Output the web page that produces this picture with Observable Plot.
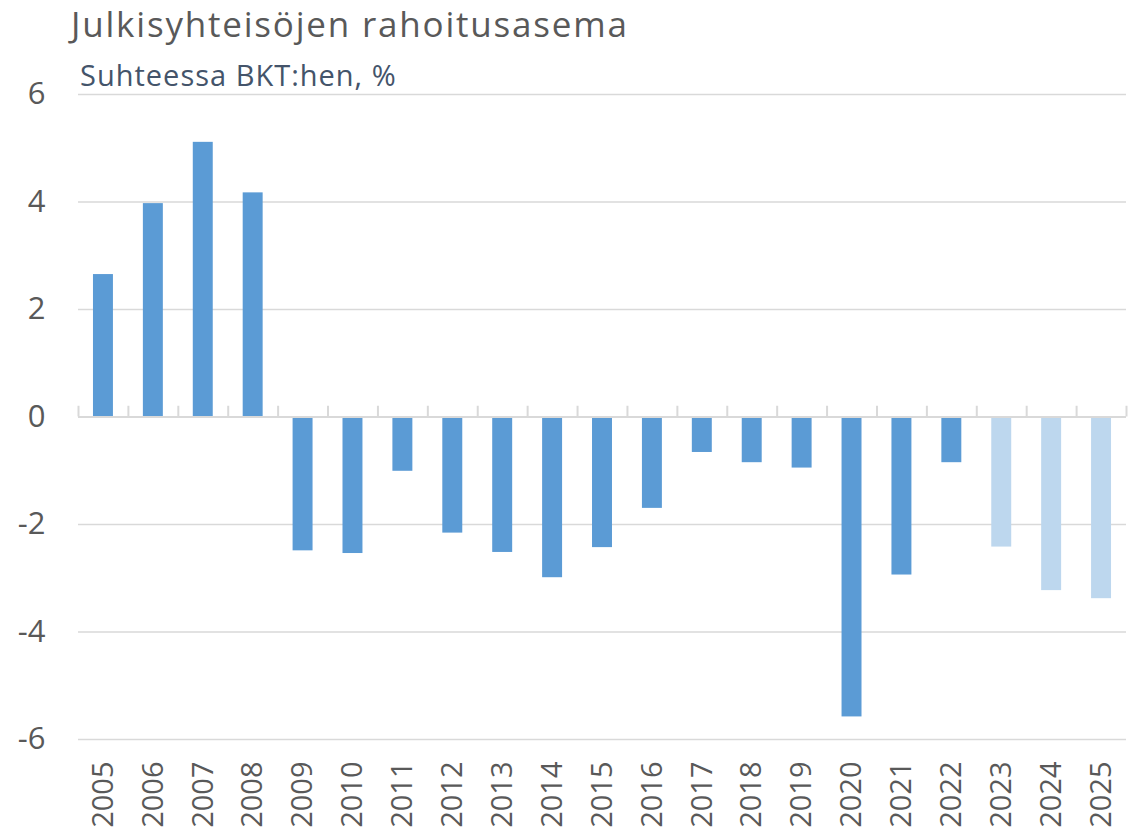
<!DOCTYPE html>
<html>
<head>
<meta charset="utf-8">
<script src="https://cdn.jsdelivr.net/npm/d3@7"></script>
<script src="https://cdn.jsdelivr.net/npm/@observablehq/plot@0.6"></script>
<style>
  html, body { margin: 0; padding: 0; background: #fff; }
  #wrap { position: relative; width: 1128px; height: 835px; overflow: hidden; font-family: "Open Sans", sans-serif; }
  #title { position: absolute; left: 71px; top: 0px; font-size: 35px; letter-spacing: 1.8px; color: #595959; white-space: nowrap; line-height: normal; }
  #subtitle { position: absolute; left: 80px; top: 55px; font-size: 29px; letter-spacing: 1px; color: #44546A; white-space: nowrap; line-height: normal; }
  #chart { position: absolute; left: 0; top: 0; }
</style>
</head>
<body>
<div id="wrap">
  <div id="chart"></div>
  <div id="title">Julkisyhteisöjen rahoitusasema</div>
  <div id="subtitle">Suhteessa BKT:hen, %</div>
</div>
<script>
const years = ["2005","2006","2007","2008","2009","2010","2011","2012","2013","2014","2015","2016","2017","2018","2019","2020","2021","2022","2023","2024","2025"];
const values = [2.65, 3.97, 5.11, 4.17, -2.49, -2.54, -1.01, -2.16, -2.52, -2.99, -2.43, -1.70, -0.66, -0.85, -0.95, -5.58, -2.94, -0.85, -2.42, -3.23, -3.38];
const forecastYears = ["2023","2024","2025"];
const yTicks = [-6, -4, -2, 0, 2, 4, 6];

const data = years.map((year, i) => ({year, value: values[i], forecast: forecastYears.includes(year)}));

const step = (1128 - 78 - 2) / years.length;

const chart = Plot.plot({
  width: 1128,
  height: 835,
  marginLeft: 78,
  marginRight: 2,
  marginTop: 94,
  marginBottom: 96,
  style: {fontFamily: "'Open Sans', sans-serif", background: "transparent"},
  x: {domain: years, paddingInner: 0.6, paddingOuter: 0.3, round: false, label: null},
  y: {domain: [-6, 6], label: null},
  marks: [
    Plot.ruleY(yTicks.filter(t => t !== 0), {stroke: "#D9D9D9", strokeWidth: 1.5}),
    Plot.barY(data.filter(d => !d.forecast), {x: "year", y: "value", fill: "#5B9BD5"}),
    Plot.barY(data.filter(d => d.forecast), {x: "year", y: "value", fill: "#BDD7EE"}),
    Plot.ruleY([0], {stroke: "#D9D9D9", strokeWidth: 2}),
    Plot.ruleX(years, {x: d => d, dx: -step / 2, y1: 0, y2: 0.2, stroke: "#D9D9D9", strokeWidth: 2}),
    Plot.ruleX(years.slice(-1), {x: d => d, dx: step / 2, y1: 0, y2: 0.2, stroke: "#D9D9D9", strokeWidth: 2}),
    Plot.axisY({ticks: yTicks, tickSize: 0, tickPadding: 33, fontSize: 31, fill: "#595959", tickFormat: d => d < 0 ? "-" + Math.abs(d) : String(d)}),
    Plot.axisX({tickSize: 0, tickPadding: 22, tickRotate: -90, fontSize: 29, fill: "#595959"})
  ]
});
document.getElementById("chart").appendChild(chart);
</script>
</body>
</html>
